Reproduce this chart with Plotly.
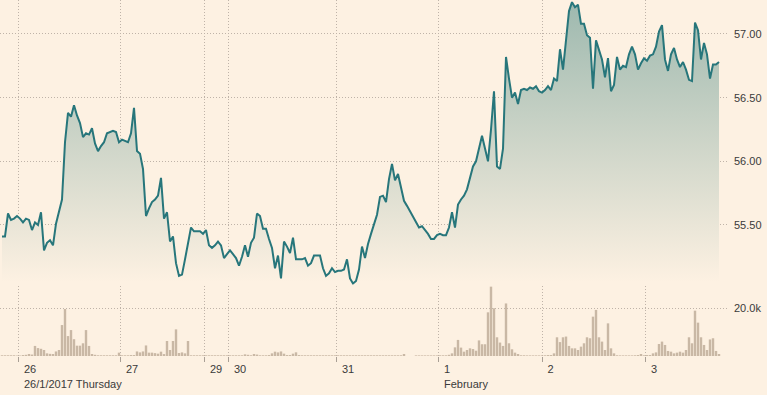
import plotly.graph_objects as go

# ---- data -------------------------------------------------------------
prices = [
    55.41, 55.41, 55.59, 55.54, 55.55, 55.57, 55.55, 55.52, 55.55, 55.54,
    55.46, 55.52, 55.50, 55.60, 55.30, 55.36, 55.38, 55.34, 55.51, 55.60,
    55.70, 56.15, 56.38, 56.35, 56.44, 56.36, 56.30, 56.19, 56.22, 56.21,
    56.26, 56.14, 56.08, 56.12, 56.15, 56.22, 56.23, 56.24, 56.23, 56.15,
    56.17, 56.16, 56.15, 56.22, 56.42, 56.08, 56.06, 55.94, 55.57, 55.63,
    55.68, 55.70, 55.73, 55.87, 55.55, 55.60, 55.37, 55.41, 55.20, 55.10,
    55.11, 55.23, 55.35, 55.48, 55.45, 55.45, 55.45, 55.43, 55.46, 55.34,
    55.32, 55.34, 55.37, 55.34, 55.24, 55.27, 55.30, 55.27, 55.24, 55.18,
    55.25, 55.34, 55.25, 55.36, 55.40, 55.59, 55.57, 55.47, 55.47, 55.39,
    55.32, 55.16, 55.26, 55.08, 55.37, 55.33, 55.28, 55.40, 55.23, 55.23,
    55.23, 55.24, 55.18, 55.20, 55.26, 55.26, 55.26, 55.16, 55.10, 55.12,
    55.16, 55.13, 55.14, 55.14, 55.15, 55.23, 55.08, 55.04, 55.06, 55.15,
    55.33, 55.24, 55.35, 55.43, 55.51, 55.58, 55.72, 55.73, 55.68, 55.86,
    55.98, 55.85, 55.90, 55.79, 55.69, 55.65, 55.61, 55.57, 55.52, 55.48,
    55.49, 55.46, 55.43, 55.39, 55.39, 55.42, 55.43, 55.42, 55.42, 55.48,
    55.60, 55.48, 55.66, 55.70, 55.73, 55.78, 55.86, 55.96, 56.00, 56.11,
    56.20, 56.10, 56.00, 56.25, 56.55, 55.96, 55.94, 56.10, 56.82, 56.65,
    56.50, 56.54, 56.45, 56.56, 56.57, 56.56, 56.58, 56.57, 56.59, 56.55,
    56.54, 56.56, 56.59, 56.56, 56.65, 56.63, 56.88, 56.72, 56.98, 57.18,
    57.25, 57.21, 57.23, 57.08, 57.08, 56.99, 56.97, 56.57, 56.95, 56.88,
    56.80, 56.66, 56.81, 56.55, 56.60, 56.82, 56.72, 56.75, 56.74, 56.84,
    56.90, 56.84, 56.72, 56.77, 56.81, 56.79, 56.83, 56.84, 56.90, 57.02,
    57.07, 56.80, 56.71, 56.84, 56.89, 56.80, 56.74, 56.78, 56.72, 56.64,
    56.63, 57.09, 57.03, 56.80, 56.93, 56.84, 56.65, 56.76, 56.76, 56.78,
]

volumes = [
    300, 300, 300, 300, 300, 200, 200, 400, 500, 830,
    600, 4200, 3300, 3000, 2500, 1100, 900, 830, 1900, 2500,
    12900, 19600, 8300, 10800, 7000, 4300, 4300, 5300, 10800, 4200,
    830, 500, 300, 300, 300, 300, 300, 300, 300, 1400,
    300, 300, 300, 400, 400, 1900, 1500, 1900, 4400, 1400,
    1400, 1200, 970, 1800, 800, 6250, 2500, 6250, 11100, 1250,
    1500, 1100, 6250, 300, 300, 300, 300, 300, 300, 300,
    300, 300, 300, 300, 300, 300, 300, 300, 300, 300,
    300, 690, 500, 300, 830, 600, 300, 300, 300, 400,
    1100, 1800, 1500, 1900, 970, 400, 400, 970, 1530, 400,
    300, 300, 300, 300, 300, 300, 300, 300, 300, 300,
    300, 300, 300, 300, 300, 300, 300, 300, 300, 300,
    300, 300, 300, 300, 300, 300, 300, 300, 300, 300,
    300, 300, 300, 300, 830, 0, 0, 0, 250, 250,
    250, 250, 250, 250, 250, 250, 300, 300, 300, 500,
    1100, 3600, 6700, 3500, 1800, 2500, 3200, 2900, 2200, 6500,
    4900, 4900, 18200, 28900, 19900, 7800, 5600, 4200, 21900, 5300,
    2800, 1400, 830, 300, 300, 250, 250, 250, 250, 250,
    250, 300, 400, 400, 1100, 7800, 5800, 7800, 8100, 4200,
    3200, 3200, 2500, 3900, 5300, 7800, 7400, 16400, 19200, 7800,
    6000, 2500, 13600, 3200, 1100, 300, 250, 250, 250, 250,
    250, 300, 400, 830, 300, 400, 400, 1100, 1500, 5000,
    6000, 4600, 2100, 1800, 1100, 1400, 1800, 1400, 2500, 7800,
    5300, 18900, 13900, 7800, 4600, 2500, 6900, 7400, 2100, 830,
]

bar_index = list(range(len(prices)))            # trading-time bar number
day_start_bar = [5.5, 39.5, 67.5, 75.5, 111.5, 145.5, 180.0, 214.5]
day_labels = ["26<br>26/1/2017 Thursday", "27", "29", "30", "31",
              "1<br>February", "2", "3"]
price_ticks = [55.5, 56.0, 56.5, 57.0]
volume_ticks = [20000]
volume_tick_labels = ["20.0k"]

# ---- styling ----------------------------------------------------------
BG = "#fdf1e2"
GRID = "#bfb3a8"
LINE = "#27767b"
BAR = "#c9b8a5"
TEXT = "#3a3a3a"

fig = go.Figure()
fig.add_trace(go.Scatter(
    x=bar_index, y=prices, mode="lines",
    line=dict(color=LINE, width=2),
    fill="tozeroy",
    fillgradient=dict(type="vertical",
                      colorscale=[[0, "rgba(253,241,226,1)"],
                                  [1, "rgba(158,185,175,1)"]],
                      start=55.05, stop=57.25),
    xaxis="x", yaxis="y", hoverinfo="skip",
))
fig.add_trace(go.Bar(
    x=bar_index, y=volumes,
    marker=dict(color=BAR, line=dict(width=0)),
    xaxis="x", yaxis="y2", hoverinfo="skip",
))

axis_common = dict(showgrid=True, gridcolor=GRID, griddash="1px,2px", gridwidth=1,
                   zeroline=False, showline=False)

fig.update_layout(
    width=767, height=395,
    margin=dict(l=0, r=40, t=0, b=39),
    paper_bgcolor=BG, plot_bgcolor=BG,
    showlegend=False, bargap=0.2,
    font=dict(family="Arial, 'Liberation Sans', sans-serif", size=11, color=TEXT),
    xaxis=dict(anchor="y2", range=[-0.667, 241.667],
               tickmode="array", tickvals=day_start_bar, ticktext=day_labels,
               ticks="outside", ticklen=5, tickcolor="#a99f95", tickwidth=1,
               ticklabelposition="outside right",
               ticklabelshift=5, ticklabelstandoff=3,
               **axis_common),
    yaxis=dict(domain=[0.2, 1], anchor="x", side="right",
               range=[55.03, 57.267], tickmode="array", tickvals=price_ticks,
               tickformat=".2f", ticks="", ticklabelstandoff=6,
               **axis_common),
    yaxis2=dict(domain=[0, 0.1966], anchor="x", side="right",
                range=[0, 29167], tickmode="array", tickvals=volume_ticks,
                ticktext=volume_tick_labels, ticks="", ticklabelstandoff=6,
                **axis_common),
)

fig.write_html("out.html",
               config={"displayModeBar": False, "staticPlot": True},
               post_script="document.body.style.margin='0';"
                           "document.body.style.background='" + BG + "';")
